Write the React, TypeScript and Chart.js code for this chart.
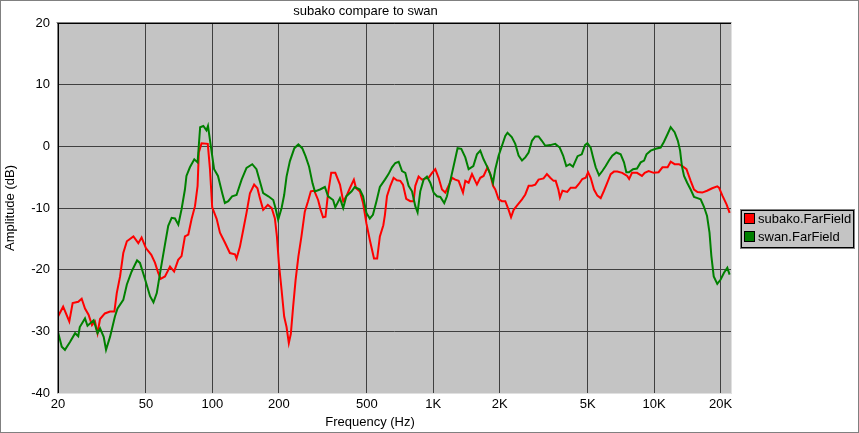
import React, { useEffect, useRef } from "react";
import { Chart, ChartConfiguration, Plugin, registerables } from "chart.js";

Chart.register(...registerables);

const FONT = "'Liberation Sans', Arial, sans-serif";

const subakoFreq = [
  20, 21.1, 22.5, 23.3, 24.7, 25.6, 26.5, 27.5, 28.5, 29.4, 30.2, 31, 32.6, 34.4, 36, 36.9, 38.2, 39.5, 41,
  43.9, 46.2, 47.8, 50, 52.9, 55, 56.8, 58.3, 61, 64.3, 67.1, 70, 72.5, 75.1, 77.8, 80.5, 83.4, 85.7, 86.8,
  89.3, 95.3, 97.5, 99.8, 104.6, 108.2, 113.9, 120, 126.5, 128.6, 133.2, 137.8, 142.7, 147.9, 154.5, 159.9,
  164.1, 169.8, 178.2, 185.5, 191.8, 195.9, 200, 205.7, 211.3, 216.6, 221.8, 226.5, 232, 238, 245, 253, 262,
  271, 279, 289, 301, 309, 317, 325, 334, 345, 360, 378, 391, 404, 419, 437, 447, 465, 481, 498, 516, 539,
  557, 573, 594, 604, 617, 639, 661, 684, 709, 729, 754, 787, 814, 829, 858, 889, 920, 952, 987, 1021, 1057,
  1095, 1133, 1173, 1215, 1257, 1302, 1363, 1396, 1445, 1497, 1576, 1632, 1689, 1760, 1811, 1864, 1908,
  1976, 2046, 2118, 2193, 2249, 2311, 2392, 2521, 2609, 2701, 2797, 2894, 2996, 3156, 3268, 3384, 3504,
  3582, 3683, 3745, 3845, 4040, 4188, 4412, 4560, 4727, 4897, 5020, 5158, 5340, 5530, 5725, 5925, 6133,
  6353, 6574, 6806, 7165, 7546, 7702, 7935, 8360, 8802, 9060, 9440, 9950, 10470, 10900, 11500, 11874,
  12375, 12950, 13400, 14000, 14625, 15150, 15700, 16500, 17350, 18300, 19300, 19650, 20360, 21260, 21950,
];
const subakoDb = [
  -27.6, -26.0, -28.4, -25.4, -25.2, -24.7, -26.3, -27.3, -29.0, -28.4, -30.3, -28.0, -27.1, -26.8, -26.8,
  -23.8, -21.1, -17.3, -15.4, -14.6, -15.7, -14.8, -16.5, -17.6, -18.9, -20.5, -21.5, -21.1, -19.5, -20.3,
  -18.4, -17.8, -14.6, -14.3, -11.8, -9.7, -6.4, -1.0, 0.5, 0.4, -3.7, -9.9, -11.8, -14.0, -15.6, -17.3,
  -17.5, -18.2, -16.3, -13.6, -10.8, -7.6, -6.2, -6.8, -8.4, -10.3, -9.5, -10.0, -11.7, -14.6, -19.0,
  -23.3, -27.6, -29.3, -31.9, -30.4, -26.0, -21.7, -17.9, -14.6, -10.6, -8.9, -7.3, -7.2, -8.7, -10.3,
  -11.5, -11.4, -7.6, -4.3, -4.3, -6.2, -8.9, -8.1, -6.8, -5.4, -6.8, -7.3, -9.2, -12.5, -15.2, -18.2,
  -18.2, -14.6, -12.8, -11.1, -8.1, -6.4, -5.1, -5.5, -5.6, -6.2, -8.5, -8.9, -8.9, -6.4, -4.9, -5.4,
  -5.2, -5.1, -4.3, -3.7, -5.1, -7.0, -7.5, -6.4, -5.1, -5.4, -5.6, -7.5, -5.6, -5.9, -4.5, -6.2, -5.1,
  -4.8, -3.4, -4.5, -6.4, -7.0, -8.6, -8.9, -8.9, -10.3, -11.5, -10.3, -9.6, -8.6, -7.8, -6.4, -6.4, -6.2,
  -5.4, -5.2, -4.5, -5.1, -5.6, -5.6, -7.0, -8.3, -7.2, -7.4, -6.7, -6.7, -6.1, -5.3, -5.1, -4.2, -5.1,
  -7.0, -8.0, -8.4, -7.2, -5.9, -4.5, -4.1, -4.1, -4.3, -4.8, -5.3, -4.3, -4.3, -4.8, -4.3, -4.0, -4.3,
  -4.2, -3.4, -3.4, -2.5, -2.9, -2.9, -3.2, -3.7, -5.6, -7.0, -7.4, -7.5, -7.2, -6.8, -6.5, -6.7, -8.0,
  -9.4, -10.8,
];

const swanFreq = [
  20, 20.8, 21.5, 22.7, 23.9, 24.7, 25.1, 26.5, 27.2, 29, 30.2, 31, 32.2, 33, 34.4, 36.2, 37.2, 39.5, 41,
  43.1, 45.6, 47, 49.6, 52.2, 54.1, 56, 58.3, 61, 63.1, 65.4, 67.7, 70.1, 72.5, 75.1, 76.3, 79.1, 82.8,
  85.7, 88, 91, 94, 95.5, 98.3, 101.8, 106, 110.8, 113.9, 118, 122.8, 128.6, 135.6, 142.7, 151.5, 158.3,
  164.1, 169.8, 179.2, 188.6, 193, 198.5, 205.7, 211.3, 216.6, 224.3, 235, 245, 255, 264, 274, 284, 291,
  307, 323, 334, 352, 360, 378, 391, 404, 427, 441, 465, 481, 498, 516, 533, 553, 573, 604, 627, 650, 673,
  697, 722, 747, 773, 801, 829, 849, 873, 904, 936, 969, 1003, 1039, 1076, 1121, 1153, 1194, 1236, 1288,
  1339, 1396, 1445, 1518, 1576, 1632, 1689, 1748, 1811, 1864, 1908, 1976, 2046, 2118, 2167, 2266, 2350,
  2433, 2521, 2609, 2701, 2797, 2894, 2996, 3101, 3213, 3384, 3565, 3735, 3870, 4000, 4150, 4287, 4500,
  4700, 4862, 4985, 5158, 5290, 5435, 5628, 5825, 6031, 6240, 6460, 6740, 7051, 7300, 7480, 7690, 8020,
  8360, 8687, 9000, 9230, 9640, 10156, 10698, 11060, 11500, 11874, 12375, 12800, 13100, 13350, 13650,
  14100, 14625, 15150, 15700, 16230, 16800, 17350, 17800, 18150, 18600, 19300, 19990, 20700, 21430, 21950,
];
const swanDb = [
  -30.1, -32.5, -33.0, -31.7, -30.3, -30.8, -29.3, -27.9, -29.1, -28.2, -30.3, -29.5, -30.9, -33.0, -30.9,
  -27.6, -26.3, -24.9, -22.4, -20.3, -18.5, -18.9, -21.6, -24.3, -25.3, -23.8, -20.0, -15.9, -12.9, -11.6,
  -11.7, -12.7, -10.2, -7.0, -4.8, -3.4, -2.1, -2.6, 3.1, 3.3, 2.6, 3.3, 0.1, -3.7, -4.8, -7.6, -9.2, -8.9,
  -8.1, -7.9, -5.4, -3.5, -2.9, -3.7, -5.7, -7.6, -8.1, -8.7, -10.0, -11.9, -10.0, -7.9, -4.9, -2.4, -0.3,
  0.3, -0.3, -1.6, -3.3, -6.0, -7.3, -7.0, -6.6, -8.1, -8.7, -9.9, -8.4, -10.0, -8.1, -7.3, -6.6, -7.0,
  -8.1, -10.8, -11.7, -11.1, -8.9, -6.6, -5.4, -4.5, -3.4, -2.7, -2.5, -4.0, -4.3, -6.4, -7.3, -9.7, -10.7,
  -7.3, -5.4, -4.9, -5.9, -7.5, -8.1, -8.2, -9.2, -8.1, -5.6, -3.2, -0.3, -0.4, -1.8, -3.7, -3.2, -1.3,
  -0.7, -2.1, -3.2, -4.5, -5.9, -3.7, -1.5, 0.1, 1.7, 2.2, 1.5, 0.4, -1.5, -2.3, -1.8, -1.0, 0.9, 1.6, 1.6,
  0.9, 0.1, 0.2, 0.4, -0.2, -1.5, -3.2, -2.9, -3.3, -1.6, -1.3, 0.2, 0.5, -0.2, -1.8, -3.4, -4.7, -4.0,
  -3.2, -2.3, -1.5, -1.0, -1.3, -2.6, -4.2, -4.2, -3.7, -3.6, -2.6, -2.3, -1.3, -0.7, -0.4, -0.2, 0.7, 2.0,
  3.1, 2.3, 0.9, -0.7, -3.2, -4.8, -5.9, -7.0, -8.2, -8.4, -8.6, -9.8, -11.3, -14.0, -17.8, -21.1, -22.3,
  -21.6, -20.5, -19.7, -20.8,
];

const xTickValues = [20, 50, 100, 200, 500, 1000, 2000, 5000, 10000, 20000];
const xTickLabels = ["20", "50", "100", "200", "500", "1K", "2K", "5K", "10K", "20K"];
const seriesLabels = ["subako.FarField", "swan.FarField"];
const seriesColors = ["#ff0000", "#008000"];

const toPoints = (xs: number[], ys: number[]) => xs.map((x, i) => ({ x, y: ys[i] }));

const framePlugin: Plugin<"line"> = {
  id: "frame",
  beforeDraw(chart) {
    const { ctx, chartArea: a, width, height } = chart;
    ctx.save();
    ctx.fillStyle = "#ffffff";
    ctx.fillRect(0, 0, width, height);
    ctx.fillStyle = "#c4c4c4";
    ctx.fillRect(a.left, a.top, a.right - a.left, a.bottom - a.top);
    ctx.restore();
  },
  afterDraw(chart) {
    const { ctx, chartArea: a, width, height } = chart;
    const line = (x1: number, y1: number, x2: number, y2: number, c: string) => {
      ctx.strokeStyle = c;
      ctx.beginPath();
      ctx.moveTo(x1, y1);
      ctx.lineTo(x2, y2);
      ctx.stroke();
    };
    ctx.save();
    ctx.lineWidth = 1;
    // sunken plot border
    line(a.left - 1.5, a.top - 0.5, a.right + 0.5, a.top - 0.5, "#808080");
    line(a.left - 0.5, a.top - 0.5, a.left - 0.5, a.bottom + 0.5, "#808080");
    line(a.left - 0.5, a.top + 0.5, a.right, a.top + 0.5, "#000000");
    line(a.left + 0.5, a.top + 0.5, a.left + 0.5, a.bottom, "#000000");
    line(a.left, a.bottom + 0.5, a.right + 1, a.bottom + 0.5, "#e0e0e0");
    line(a.right + 0.5, a.top, a.right + 0.5, a.bottom + 1, "#e0e0e0");

    // window frame
    ctx.strokeStyle = "#808080";
    ctx.strokeRect(0.5, 0.5, width - 1, height - 1);

    // x axis title
    ctx.fillStyle = "#000000";
    ctx.font = `13px ${FONT}`;
    ctx.textAlign = "center";
    ctx.textBaseline = "middle";
    ctx.fillText("Frequency (Hz)", 370, 422);

    // legend
    const lx = a.right + 9;
    const ly = 209;
    ctx.fillStyle = "#c4c4c4";
    ctx.fillRect(lx, ly, 115, 40);
    ctx.strokeStyle = "#808080";
    ctx.strokeRect(lx + 0.5, ly + 0.5, 114, 39);
    ctx.strokeStyle = "#000000";
    ctx.strokeRect(lx + 1.5, ly + 1.5, 112, 37);
    ctx.textAlign = "left";
    seriesLabels.forEach((label, i) => {
      const by = ly + 4 + i * 18;
      ctx.fillStyle = seriesColors[i];
      ctx.fillRect(lx + 4, by, 11, 11);
      ctx.strokeStyle = "#000000";
      ctx.strokeRect(lx + 4.5, by + 0.5, 10, 10);
      ctx.fillStyle = "#000000";
      ctx.fillText(label, lx + 18, by + 6);
    });
    ctx.restore();
  },
};

const App: React.FC = () => {
  const canvasRef = useRef<HTMLCanvasElement | null>(null);
  const chartRef = useRef<Chart | null>(null);

  useEffect(() => {
    if (!canvasRef.current) return;
    if (chartRef.current) chartRef.current.destroy();

    Chart.defaults.font.family = FONT;
    Chart.defaults.font.size = 13;
    Chart.defaults.color = "#000000";

    const config: ChartConfiguration<"line"> = {
      type: "line",
      data: {
        datasets: [
          {
            label: seriesLabels[0],
            data: toPoints(subakoFreq, subakoDb),
            borderColor: seriesColors[0],
            borderWidth: 2,
            pointRadius: 0,
            order: 1,
          },
          {
            label: seriesLabels[1],
            data: toPoints(swanFreq, swanDb),
            borderColor: seriesColors[1],
            borderWidth: 2,
            pointRadius: 0,
            order: 0,
          },
        ],
      },
      options: {
        responsive: true,
        maintainAspectRatio: false,
        animation: false,
        events: [],
        layout: { padding: { left: 0, right: 128, top: 0, bottom: 0 } },
        plugins: {
          legend: { display: false },
          tooltip: { enabled: false },
          title: {
            display: true,
            text: "subako compare to swan",
            color: "#000000",
            font: { size: 13, weight: "normal", lineHeight: 1.2 },
            padding: { top: 4, bottom: 3.4 },
          },
        },
        scales: {
          x: {
            type: "logarithmic",
            min: 20,
            max: 22270,
            afterBuildTicks: (scale) => {
              scale.ticks = xTickValues.map((value) => ({ value }));
            },
            afterFit: (scale) => {
              scale.height = 40;
            },
            ticks: {
              autoSkip: false,
              maxRotation: 0,
              minRotation: 0,
              padding: 4,
              color: "#000000",
              callback: (_v, i) => xTickLabels[i],
            },
            grid: { color: "#404040", lineWidth: 1, drawTicks: false },
            border: { display: false },
          },
          y: {
            type: "linear",
            min: -40,
            max: 20,
            afterFit: (scale) => {
              scale.width = 58;
            },
            ticks: { stepSize: 10, padding: 8, color: "#000000" },
            grid: { color: "#404040", lineWidth: 1, drawTicks: false },
            border: { display: false },
            title: {
              display: true,
              text: "Amplitude (dB)",
              color: "#000000",
              font: { size: 13 },
              padding: { top: 3, bottom: 0 },
            },
          },
        },
      },
      plugins: [framePlugin],
    };

    chartRef.current = new Chart(canvasRef.current, config);
    return () => {
      if (chartRef.current) {
        chartRef.current.destroy();
        chartRef.current = null;
      }
    };
  }, []);

  return (
    <div style={{ position: "fixed", left: 0, top: 0, width: 859, height: 433 }}>
      <canvas ref={canvasRef}></canvas>
    </div>
  );
};

export default App;
